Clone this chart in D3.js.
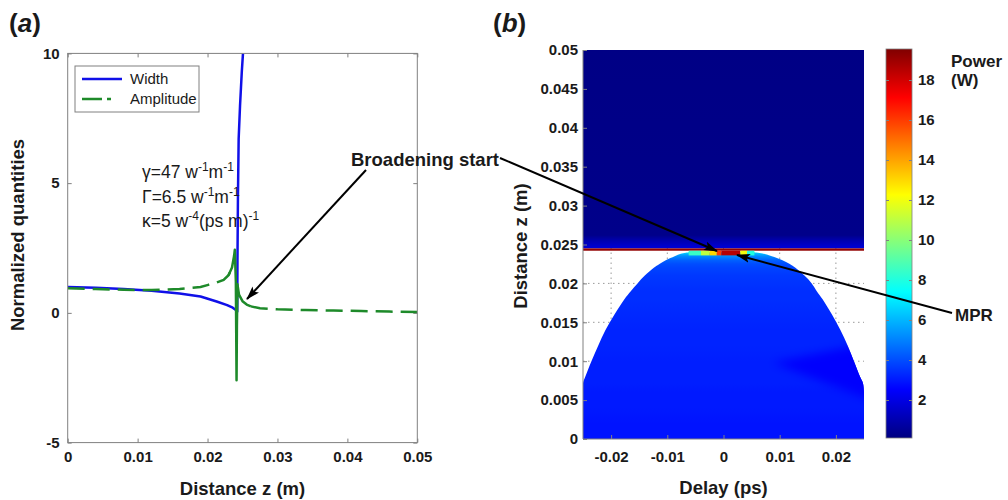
<!DOCTYPE html>
<html><head><meta charset="utf-8">
<script src="https://cdn.jsdelivr.net/npm/d3@7"></script>
<style>
body{margin:0;background:#fff;}
svg{display:block;font-family:"Liberation Sans",Arial,sans-serif;}
</style></head><body>
<svg id="c" width="1008" height="500"></svg>
<script>
// ---------------- DATA ----------------
// Panel (a)
const aXTicks = [0, 0.01, 0.02, 0.03, 0.04, 0.05];
const aYTicks = [-5, 0, 5, 10];
const widthZ   = [0, 0.004, 0.008, 0.012, 0.016, 0.019, 0.0213, 0.0228, 0.0236, 0.0240, 0.02425, 0.02428, 0.02435, 0.02445, 0.02465, 0.0249, 0.02507, 0.0252];
const widthVal = [1.00, 0.97, 0.92, 0.85, 0.75, 0.63, 0.44, 0.30, 0.20, 0.12, 0.05, 2.0, 4.5, 6.7, 8.0, 9.3, 10.0, 10.5];
const ampZ   = [0, 0.004, 0.008, 0.012, 0.016, 0.019, 0.0201, 0.0213, 0.0223, 0.0230, 0.0235, 0.0238, 0.0239, 0.02405, 0.02415, 0.02420, 0.02428, 0.0245, 0.0250, 0.0256, 0.0262, 0.0275, 0.030, 0.034, 0.038, 0.042, 0.046, 0.050];
const ampVal = [0.95, 0.92, 0.89, 0.88, 0.92, 1.00, 1.08, 1.17, 1.27, 1.45, 1.75, 2.2, 2.43, 1.2, -2.6, -0.5, 1.1, 0.7, 0.45, 0.32, 0.25, 0.18, 0.14, 0.11, 0.09, 0.07, 0.05, 0.03];
const legendLabels = ["Width", "Amplitude"];

// Panel (b)
const bXTicks = [-0.02, -0.01, 0, 0.01, 0.02];
const bYTicks = [0, 0.005, 0.01, 0.015, 0.02, 0.025, 0.03, 0.035, 0.04, 0.045, 0.05];
const cbTicks = [2, 4, 6, 8, 10, 12, 14, 16, 18];
// pulse region (dome): edges in delay (ps) per distance z (m) and power (W)
const domeZ     = [0, 0.002, 0.004, 0.006, 0.0072, 0.008, 0.010, 0.012, 0.014, 0.016, 0.018, 0.019, 0.020, 0.021, 0.022, 0.0225, 0.023, 0.0235, 0.0238, 0.0240];
const domeLeft  = [-0.025, -0.025, -0.025, -0.025, -0.025, -0.0246, -0.0235, -0.0223, -0.0210, -0.0194, -0.0176, -0.0165, -0.0153, -0.0140, -0.0124, -0.0114, -0.0102, -0.0087, -0.0076, -0.0062];
const domeRight = [0.025, 0.025, 0.025, 0.025, 0.0248, 0.0243, 0.0232, 0.0221, 0.0208, 0.0193, 0.0176, 0.0166, 0.0157, 0.0144, 0.0128, 0.0118, 0.0104, 0.0086, 0.0072, 0.0055];
const domePower = [2.9, 2.9, 3.0, 3.0, 3.1, 3.1, 3.1, 3.2, 3.2, 3.3, 3.4, 3.4, 3.5, 3.6, 3.8, 4.0, 4.4, 5.2, 6.0, 7.0];
// darker wedge inside the pulse (lower right)
const wedgeDelay = [0.0088, 0.027, 0.027];
const wedgeZ     = [0.0098, 0.0125, 0.0048];
const wedgePower = 2.5;
// peak row at top of pulse
const tipEdges = [-0.0062, -0.0040, -0.0025, -0.0012, -0.0004, 0.0030, 0.0042, 0.0055];
const tipPower = [8.5, 11, 13, 16, 18.5, 12, 8];
const tipZ = [0.0236, 0.0242];
// saturated band and region above
const bandZ = [0.0242, 0.0245];
const bandPower = 19.2;
const topZ     = [0.0245, 0.0254, 0.0262, 0.05];
const topPower = [1.8, 1.1, 0.3, 0.2];

// ---------------- SETUP ----------------
const svg = d3.select("#c");
const defs = svg.append("defs");
const AX = "#808080", TXT = "#1a1a1a";

const xA = d3.scaleLinear([0, 0.05], [67.7, 417.3]);
const yA = d3.scaleLinear([-5, 10], [442.6, 53.4]);
const xB = d3.scaleLinear([-0.025, 0.025], [583, 864]);
const yB = d3.scaleLinear([0, 0.05], [439, 50]);
const cMin = 0.1, cMax = 19.55;
const jet = d3.scaleLinear()
  .domain([0, 0.125, 0.375, 0.625, 0.875, 1].map(f => cMin + f * (cMax - cMin)))
  .range(["#000080", "#0000ff", "#00ffff", "#ffff00", "#ff0000", "#800000"]).clamp(true);
const yC = d3.scaleLinear([cMin, cMax], [438, 49]);

function styleAxis(g, showText) {
  g.select(".domain").remove();
  g.selectAll(".tick line").attr("stroke", AX);
  g.selectAll(".tick text").attr("fill", TXT).attr("font-size", 15).attr("font-weight", "bold")
   .attr("font-family", '"Liberation Sans",Arial,sans-serif');
  if (!showText) g.selectAll(".tick text").remove();
}

// arrow marker
defs.append("marker").attr("id", "arr").attr("markerUnits", "userSpaceOnUse")
  .attr("viewBox", "0 -5 14 10").attr("refX", 13).attr("refY", 0)
  .attr("markerWidth", 14).attr("markerHeight", 10).attr("orient", "auto")
  .append("path").attr("d", "M0,-4.5L14,0L0,4.5L3,0Z").attr("fill", "#000");

// ---------------- PANEL (a) ----------------
defs.append("clipPath").attr("id", "clipA").append("rect")
  .attr("x", xA(0)).attr("y", yA(10)).attr("width", xA(0.05) - xA(0)).attr("height", yA(-5) - yA(10));

const fmtA = d => String(d);
svg.append("g").attr("transform", `translate(0,${yA(-5)})`)
  .call(d3.axisBottom(xA).tickValues(aXTicks).tickSize(-4).tickPadding(9).tickFormat(fmtA)).call(g => styleAxis(g, true));
svg.append("g").attr("transform", `translate(0,${yA(10)})`)
  .call(d3.axisTop(xA).tickValues(aXTicks).tickSize(-4)).call(g => styleAxis(g, false));
svg.append("g").attr("transform", `translate(${xA(0)},0)`)
  .call(d3.axisLeft(yA).tickValues(aYTicks).tickSize(-4).tickPadding(8).tickFormat(fmtA)).call(g => styleAxis(g, true));
svg.append("g").attr("transform", `translate(${xA(0.05)},0)`)
  .call(d3.axisRight(yA).tickValues(aYTicks).tickSize(-4)).call(g => styleAxis(g, false));

const plotA = svg.append("g").attr("clip-path", "url(#clipA)");
const widthPts = widthZ.map((z, i) => [z, widthVal[i]]);
const ampPts = ampZ.map((z, i) => [z, ampVal[i]]);
const lineA = d3.line().x(d => xA(d[0])).y(d => yA(d[1]));

plotA.append("path").attr("d", lineA(widthPts)).attr("fill", "none")
  .attr("stroke", "#1010e8").attr("stroke-width", 2.5).attr("stroke-linejoin", "round");
const GREEN = "#1e8a2a";
plotA.append("path").attr("d", lineA(ampPts.filter(d => d[0] <= 0.0235))).attr("fill", "none")
  .attr("stroke", GREEN).attr("stroke-width", 2.5).attr("stroke-dasharray", "17,8");
plotA.append("path").attr("d", lineA(ampPts.filter(d => d[0] >= 0.0230 && d[0] <= 0.0262))).attr("fill", "none")
  .attr("stroke", GREEN).attr("stroke-width", 2.5).attr("stroke-linejoin", "round");
plotA.append("path").attr("d", lineA(ampPts.filter(d => d[0] >= 0.0262))).attr("fill", "none")
  .attr("stroke", GREEN).attr("stroke-width", 2.5).attr("stroke-dasharray", "17,8");

svg.append("rect").attr("x", xA(0)).attr("y", yA(10)).attr("width", xA(0.05) - xA(0)).attr("height", yA(-5) - yA(10))
  .attr("fill", "none").attr("stroke", AX).attr("stroke-width", 1);

// legend
const lg = svg.append("g");
lg.append("rect").attr("x", 75).attr("y", 66).attr("width", 124).attr("height", 46)
  .attr("fill", "#fff").attr("stroke", AX);
lg.append("line").attr("x1", 82).attr("x2", 122).attr("y1", 79).attr("y2", 79)
  .attr("stroke", "#1010e8").attr("stroke-width", 2.5);
lg.append("line").attr("x1", 82).attr("x2", 111).attr("y1", 99).attr("y2", 99)
  .attr("stroke", GREEN).attr("stroke-width", 2.5).attr("stroke-dasharray", "20,5");
legendLabels.forEach((t, i) => lg.append("text").attr("x", 130).attr("y", 79 + i * 20).attr("dy", "0.35em")
  .attr("font-size", 15).attr("fill", TXT).text(t));

// parameter annotations
function supText(x, y, parts) {
  const t = svg.append("text").attr("x", x).attr("y", y).attr("font-size", 17.5).attr("fill", TXT);
  parts.forEach(p => {
    if (p.sup) t.append("tspan").attr("dy", -7).attr("font-size", 12).text(p.sup);
    else t.append("tspan").attr("dy", p.after ? 7 : 0).text(p.t);
  });
}
supText(142, 178, [{t: "γ=47 w"}, {sup: "-1"}, {t: "m", after: true}, {sup: "-1"}]);
supText(142, 203, [{t: "Γ=6.5 w"}, {sup: "-1"}, {t: "m", after: true}, {sup: "-1"}]);
supText(142, 227, [{t: "κ=5 w"}, {sup: "-4"}, {t: "(ps m)", after: true}, {sup: "-1"}]);

svg.append("text").attr("x", (xA(0) + xA(0.05)) / 2).attr("y", 495).attr("text-anchor", "middle")
  .attr("font-size", 18.5).attr("font-weight", "bold").attr("fill", TXT).text("Distance z (m)");
svg.append("text").attr("transform", "translate(24,235) rotate(-90)").attr("text-anchor", "middle")
  .attr("font-size", 18.5).attr("font-weight", "bold").attr("fill", TXT).text("Normalized quantities");
const pa = svg.append("text").attr("x", 9).attr("y", 32).attr("font-size", 26).attr("font-weight", "bold").attr("fill", TXT);
pa.append("tspan").text("(");
pa.append("tspan").attr("font-style", "italic").text("a");
pa.append("tspan").text(")");

// ---------------- PANEL (b) ----------------
defs.append("clipPath").attr("id", "clipB").append("rect")
  .attr("x", xB(-0.025)).attr("y", yB(0.05)).attr("width", xB(0.025) - xB(-0.025)).attr("height", yB(0) - yB(0.05));

// dotted grid
const grid = svg.append("g").attr("stroke", "#9a9a9a").attr("stroke-width", 1).attr("stroke-dasharray", "1.5,3.5");
bXTicks.forEach(v => grid.append("line").attr("x1", xB(v)).attr("x2", xB(v)).attr("y1", yB(0)).attr("y2", yB(0.05)));
bYTicks.slice(1, -1).forEach(v => grid.append("line").attr("x1", xB(-0.025)).attr("x2", xB(0.025)).attr("y1", yB(v)).attr("y2", yB(v)));

const plotB = svg.append("g").attr("clip-path", "url(#clipB)");

// gradient for region above
const gTop = defs.append("linearGradient").attr("id", "gTop").attr("gradientUnits", "userSpaceOnUse")
  .attr("x1", 0).attr("x2", 0).attr("y1", yB(topZ[0])).attr("y2", yB(topZ[topZ.length - 1]));
topZ.forEach((z, i) => gTop.append("stop")
  .attr("offset", (z - topZ[0]) / (topZ[topZ.length - 1] - topZ[0])).attr("stop-color", jet(topPower[i])));
plotB.append("rect").attr("x", xB(-0.025)).attr("width", xB(0.025) - xB(-0.025))
  .attr("y", yB(topZ[topZ.length - 1])).attr("height", yB(topZ[0]) - yB(topZ[topZ.length - 1]))
  .attr("fill", "url(#gTop)");

// saturated band
plotB.append("rect").attr("x", xB(-0.025)).attr("width", xB(0.025) - xB(-0.025))
  .attr("y", yB(bandZ[1])).attr("height", yB(bandZ[0]) - yB(bandZ[1])).attr("fill", jet(bandPower));

// pulse dome
const zMaxD = domeZ[domeZ.length - 1];
const gDome = defs.append("linearGradient").attr("id", "gDome").attr("gradientUnits", "userSpaceOnUse")
  .attr("x1", 0).attr("x2", 0).attr("y1", yB(0)).attr("y2", yB(zMaxD));
domeZ.forEach((z, i) => gDome.append("stop").attr("offset", z / zMaxD).attr("stop-color", jet(domePower[i])));
const domeRows = domeZ.map((z, i) => ({z, l: domeLeft[i], r: domeRight[i]}));
const domeArea = d3.area().y(d => yB(d.z)).x0(d => xB(d.l)).x1(d => xB(d.r)).curve(d3.curveCatmullRom.alpha(0.5));
const domeD = domeArea(domeRows);
plotB.append("path").attr("d", domeD).attr("fill", "url(#gDome)");
defs.append("clipPath").attr("id", "clipDome").append("path").attr("d", domeD);

// darker wedge (blurred, clipped to pulse)
defs.append("filter").attr("id", "soft").attr("x", "-20%").attr("y", "-20%").attr("width", "140%").attr("height", "140%")
  .append("feGaussianBlur").attr("stdDeviation", 5);
plotB.append("g").attr("clip-path", "url(#clipDome)").append("path")
  .attr("d", d3.line().curve(d3.curveLinearClosed)(wedgeDelay.map((d, i) => [xB(d), yB(wedgeZ[i])])))
  .attr("fill", jet(wedgePower)).attr("filter", "url(#soft)");

// peak row
tipPower.forEach((p, i) => plotB.append("rect")
  .attr("x", xB(tipEdges[i])).attr("width", xB(tipEdges[i + 1]) - xB(tipEdges[i]))
  .attr("y", yB(tipZ[1])).attr("height", yB(tipZ[0]) - yB(tipZ[1])).attr("fill", jet(p)));

// axes (b)
const fmtB = d => String(+(+d).toFixed(3));
svg.append("g").attr("transform", `translate(0,${yB(0)})`)
  .call(d3.axisBottom(xB).tickValues(bXTicks).tickSize(-4).tickPadding(12).tickFormat(fmtB)).call(g => styleAxis(g, true));
svg.append("g").attr("transform", `translate(${xB(-0.025)},0)`)
  .call(d3.axisLeft(yB).tickValues(bYTicks).tickSize(-4).tickPadding(5).tickFormat(fmtB)).call(g => styleAxis(g, true));
svg.append("line").attr("x1", xB(-0.025)).attr("x2", xB(-0.025)).attr("y1", yB(0)).attr("y2", yB(0.05)).attr("stroke", AX);
svg.append("line").attr("x1", xB(-0.025)).attr("x2", xB(0.025)).attr("y1", yB(0)).attr("y2", yB(0)).attr("stroke", AX);

svg.append("text").attr("x", (xB(-0.025) + xB(0.025)) / 2).attr("y", 494).attr("text-anchor", "middle")
  .attr("font-size", 18.5).attr("font-weight", "bold").attr("fill", TXT).text("Delay (ps)");
svg.append("text").attr("transform", "translate(527,246) rotate(-90)").attr("text-anchor", "middle")
  .attr("font-size", 18.5).attr("font-weight", "bold").attr("fill", TXT).text("Distance z (m)");
const pb = svg.append("text").attr("x", 493).attr("y", 32).attr("font-size", 26).attr("font-weight", "bold").attr("fill", TXT);
pb.append("tspan").text("(");
pb.append("tspan").attr("font-style", "italic").text("b");
pb.append("tspan").text(")");

// colorbar
const cbX = 886, cbW = 26;
const gCb = defs.append("linearGradient").attr("id", "gCb").attr("x1", 0).attr("x2", 0).attr("y1", 1).attr("y2", 0);
d3.range(0, 1.0001, 0.0625).forEach(f => gCb.append("stop").attr("offset", f).attr("stop-color", jet(cMin + f * (cMax - cMin))));
svg.append("rect").attr("x", cbX).attr("y", yC(cMax)).attr("width", cbW).attr("height", yC(cMin) - yC(cMax))
  .attr("fill", "url(#gCb)").attr("stroke", AX).attr("stroke-width", 0.8);
svg.append("g").attr("transform", `translate(${cbX + cbW},0)`)
  .call(d3.axisRight(yC).tickValues(cbTicks).tickSize(-3).tickPadding(6).tickFormat(d => String(d))).call(g => styleAxis(g, true));
svg.append("g").attr("transform", `translate(${cbX},0)`)
  .call(d3.axisLeft(yC).tickValues(cbTicks).tickSize(-3)).call(g => styleAxis(g, false));
svg.append("text").attr("x", 951).attr("y", 67).attr("font-size", 17).attr("font-weight", "bold").attr("fill", TXT).text("Power");
svg.append("text").attr("x", 951).attr("y", 86).attr("font-size", 17).attr("font-weight", "bold").attr("fill", TXT).text("(W)");

// ---------------- ANNOTATIONS ----------------
svg.append("text").attr("x", 351).attr("y", 166).attr("font-size", 18.5).attr("font-weight", "bold").attr("fill", TXT).text("Broadening start");
svg.append("text").attr("x", 955).attr("y", 321).attr("font-size", 17).attr("font-weight", "bold").attr("fill", TXT).text("MPR");
const arrows = [[366, 170, 247, 299], [500, 158, 717, 251], [952, 313, 737, 255]];
arrows.forEach(a => svg.append("line").attr("x1", a[0]).attr("y1", a[1]).attr("x2", a[2]).attr("y2", a[3])
  .attr("stroke", "#000").attr("stroke-width", 2).attr("marker-end", "url(#arr)"));
</script>
</body></html>
